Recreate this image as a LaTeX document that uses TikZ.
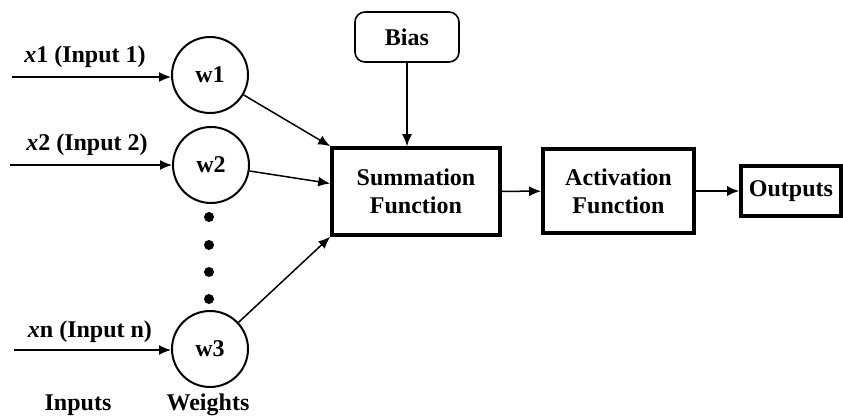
\documentclass[tikz,border=0pt]{standalone}
\usepackage{fontspec}
\setmainfont{Liberation Serif}
\usetikzlibrary{arrows.meta}

\begin{document}
\begin{tikzpicture}[
  x=0.5pt, y=-0.5pt,
  font=\bfseries\fontsize{12}{14}\selectfont,
  weight/.style={circle, draw, line width=1pt, minimum size=38pt, inner sep=0pt},
  block/.style={rectangle, draw, line width=1.8pt, align=center, inner sep=0pt},
  biasbox/.style={rectangle, draw, rounded corners=5pt, line width=0.8pt, minimum width=52pt, minimum height=25pt},
  link/.style={-{Latex[length=6pt,width=5pt]}, line width=0.75pt},
  dot/.style={circle, fill, inner sep=0pt, minimum size=5pt}
]
  \useasboundingbox (0,0) rectangle (843,419);

  % weights
  \node[weight] (w1) at (210,75) {w1};
  \node[weight] (w2) at (211,165) {w2};
  \node[weight] (w3) at (210,349) {w3};

  % dots between w2 and w3
  \foreach \y [count=\i] in {217,245,272,299}
    \node[dot] (d\i) at (209,\y) {};

  % inputs
  \coordinate (in1) at (12,77);
  \coordinate (in2) at (10,165);
  \coordinate (in3) at (14,350);
  \node (x1) at (85,57) {{\itshape x}1 (Input 1)};
  \node (x2) at (87,145) {{\itshape x}2 (Input 2)};
  \node (x3) at (90,332) {{\itshape x}n (Input n)};
  \draw[link] (in1) -- (in1 -| w1.west);
  \draw[link] (in2) -- (in2 -| w2.west);
  \draw[link] (in3) -- (in3 -| w3.west);

  % processing blocks
  \node[block, minimum width=84pt, minimum height=43.5pt] (sum) at (416,191.5) {Summation\\Function};
  \node[block, minimum width=75.5pt, minimum height=42pt] (act) at (618.5,191) {Activation\\Function};
  \node[block, minimum width=50pt, minimum height=25pt] (out) at (791,191) {Outputs};
  \node[biasbox] (bias) at (407,37) {Bias};

  \draw[link] (w1) -- (sum.north west);
  \draw[link] (w2) -- ([yshift=4pt]sum.west);
  \draw[link] (w3) -- (sum.south west);
  \draw[link] (bias) -- (bias |- sum.north);
  \draw[link] (sum) -- (act);
  \draw[link] (act) -- (out);

  % captions
  \node (inputs) at (78,405) {Inputs};
  \node (weights) at (208,405) {Weights};
\end{tikzpicture}
\end{document}
